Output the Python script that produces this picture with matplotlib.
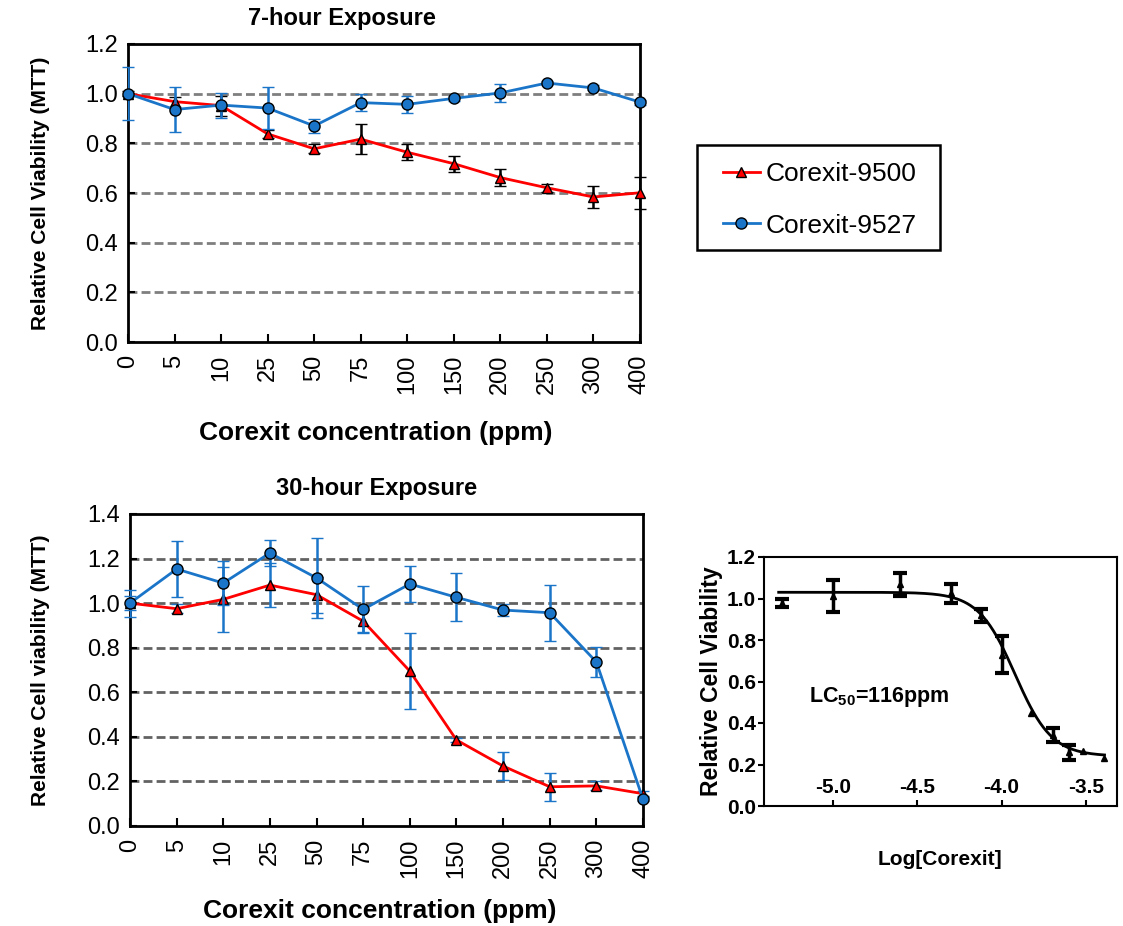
import matplotlib
matplotlib.use("Agg")
import matplotlib.pyplot as plt
from matplotlib.lines import Line2D
from matplotlib.patches import Rectangle
import numpy as np

plt.rcParams['font.family'] = ['Liberation Sans', 'DejaVu Sans']
plt.rcParams['mathtext.default'] = 'regular'

# ---------------- data ----------------
conc_labels = ["0", "5", "10", "25", "50", "75", "100", "150", "200", "250", "300", "400"]

# 7-hour exposure
v9500_7h = [1.00, 0.968, 0.952, 0.838, 0.778, 0.817, 0.764, 0.718, 0.662, 0.621, 0.584, 0.601]
e9500_7h = [0.01, 0.02, 0.04, 0.015, 0.018, 0.06, 0.033, 0.033, 0.033, 0.017, 0.044, 0.065]
v9527_7h = [1.00, 0.936, 0.954, 0.942, 0.870, 0.964, 0.957, 0.981, 1.003, 1.043, 1.023, 0.966]
e9527_7h = [0.107, 0.09, 0.05, 0.086, 0.028, 0.034, 0.035, 0.01, 0.035, 0.01, 0.01, 0.01]

# 30-hour exposure
v9500_30h = [1.00, 0.975, 1.017, 1.081, 1.038, 0.919, 0.695, 0.386, 0.269, 0.176, 0.180, 0.145]
e9500_30h = [0.03, 0.02, 0.145, 0.10, 0.08, 0.05, 0.17, 0.01, 0.064, 0.063, 0.02, 0.01]
v9527_30h = [1.00, 1.153, 1.090, 1.225, 1.113, 0.972, 1.086, 1.026, 0.969, 0.957, 0.736, 0.120]
e9527_30h = [0.06, 0.125, 0.10, 0.06, 0.18, 0.105, 0.08, 0.108, 0.025, 0.126, 0.068, 0.01]

# Dose-response (Log[Corexit])
log_conc = [-5.30, -5.00, -4.60, -4.30, -4.12, -4.00, -3.826, -3.696, -3.599, -3.518, -3.391]
resp = [0.977, 1.010, 1.069, 1.025, 0.919, 0.730, 0.448, 0.343, 0.258, 0.267, 0.231]
resp_err = [0.02, 0.077, 0.055, 0.045, 0.03, 0.09, 0.0, 0.035, 0.034, 0.0, 0.0]
# fitted 4-parameter logistic parameters
fit_top, fit_bottom, fit_logec50, fit_hill = 1.03, 0.24, -3.92, 4.0

RED = "#ff0000"
BLUE = "#1a75c9"
GRID_TOP = "#7f7f7f"
GRID_BOT = "#626262"

W, H = 1123, 926
fig = plt.figure(figsize=(W / 100, H / 100), dpi=100)


def px_axes(l, t, r, b):
    return fig.add_axes([l / W, 1 - b / H, (r - l) / W, (b - t) / H])


def style_line_axes(ax, box, vals_a, errs_a, vals_b, errs_b, ecol_a, ymax, ylabel,
                    xlab_cx, xlab_top, gridcol):
    l, t, r, b = box
    x = np.arange(len(conc_labels))
    for yv in np.arange(0.2, ymax - 0.1, 0.2):
        ax.axhline(yv, color=gridcol, lw=2.0, ls=(0, (3.2, 1.5)), zorder=1)
    ax.errorbar(x, vals_a, yerr=errs_a, color=RED, lw=2.0, marker='^', ms=7.5,
                mfc=RED, mec='black', mew=1.0, ecolor=ecol_a, elinewidth=1.8,
                capsize=4, capthick=1.8, zorder=3)
    ax.errorbar(x, vals_b, yerr=errs_b, color=BLUE, lw=2.0, marker='o', ms=8,
                mfc=BLUE, mec='black', mew=1.0, ecolor=BLUE, elinewidth=1.8,
                capsize=4, capthick=1.8, zorder=4)
    ax.set_xlim(0, len(conc_labels) - 1)
    ax.set_ylim(0, ymax)
    yt = np.arange(0, ymax + 0.01, 0.2)
    ax.set_yticks(np.round(yt, 1))
    ax.set_yticklabels([f"{v:.1f}" for v in yt], fontsize=17)
    ax.set_xticks(x)
    ax.set_xticklabels(conc_labels, rotation=90, fontsize=17)
    ax.tick_params(axis='x', direction='in', length=6, width=1.5, pad=9)
    ax.tick_params(axis='y', direction='in', length=5, width=1.5, pad=7)
    for s in ax.spines.values():
        s.set_linewidth(2.0)
    ax.set_ylabel(ylabel, fontsize=15, fontweight='bold')
    ax.yaxis.set_label_coords((50 - l) / (r - l), 0.5)
    ax.set_xlabel("Corexit concentration (ppm)", fontsize=19, fontweight='bold')
    ax.xaxis.set_label_coords((xlab_cx - l) / (r - l), (b - xlab_top) / (b - t))
    for line in ax.lines:
        line.set_clip_on(False)


box1 = (128, 44, 640, 342)
ax1 = px_axes(*box1)
style_line_axes(ax1, box1, v9500_7h, e9500_7h, v9527_7h, e9527_7h, 'black', 1.2,
                "Relative Cell Viability (MTT)", 376, 421, GRID_TOP)
fig.text(342 / W, 1 - 19 / H, "7-hour Exposure", fontsize=17, fontweight='bold',
         ha='center', va='center')

box2 = (130, 514, 643, 826)
ax2 = px_axes(*box2)
style_line_axes(ax2, box2, v9500_30h, e9500_30h, v9527_30h, e9527_30h, BLUE, 1.4,
                "Relative Cell viability (MTT)", 380, 899, GRID_BOT)
fig.text(377 / W, 1 - 488 / H, "30-hour Exposure", fontsize=17, fontweight='bold',
         ha='center', va='center')

# legend
h_a = Line2D([], [], color=RED, lw=2.0, marker='^', ms=7.5, mfc=RED, mec='black', mew=1.0)
h_b = Line2D([], [], color=BLUE, lw=2.0, marker='o', ms=8, mfc=BLUE, mec='black', mew=1.0)
leg = fig.legend([h_a, h_b], ["Corexit-9500", "Corexit-9527"], loc='upper left',
                 bbox_to_anchor=(723 / W, 1 - 162 / H), borderaxespad=0,
                 fontsize=19, frameon=False, handlelength=1.4, handletextpad=0.2,
                 labelspacing=1.05, borderpad=0)
fig.patches.append(Rectangle((697 / W, 1 - 250 / H), 243 / W, 105 / H,
                             transform=fig.transFigure, fill=False,
                             edgecolor='black', lw=1.8))

# ---------------- dose-response ----------------
box3 = (764, 557, 1117, 806)
ax3 = px_axes(*box3)
xs = np.linspace(-5.32, -3.39, 300)
ys = fit_bottom + (fit_top - fit_bottom) / (1 + 10 ** ((xs - fit_logec50) * fit_hill))
ax3.plot(xs, ys, color='black', lw=2.0, zorder=2)
lc = np.array(log_conc)
rv = np.array(resp)
re = np.array(resp_err)
m = re > 0
ax3.errorbar(lc[m], rv[m], yerr=re[m], fmt='none', ecolor='black',
             elinewidth=2.5, capsize=5, capthick=3, zorder=3)
ax3.plot(lc, rv, '^', color='black', ms=5, zorder=4)
ax3.set_xlim(-5.407, -3.316)
ax3.set_ylim(0, 1.2)
yt3 = np.arange(0, 1.21, 0.2)
ax3.set_yticks(np.round(yt3, 1))
ax3.set_yticklabels([f"{v:.1f}" for v in yt3], fontsize=15, fontweight='bold')
ax3.set_xticks([-5.0, -4.5, -4.0, -3.5])
ax3.set_xticklabels(["-5.0", "-4.5", "-4.0", "-3.5"], fontsize=15, fontweight='bold')
ax3.tick_params(axis='x', direction='in', length=4, width=1.5, pad=-20)
ax3.tick_params(axis='y', direction='out', length=4, width=1.5, pad=2)
for s in ax3.spines.values():
    s.set_linewidth(1.5)
ax3.set_ylabel("Relative Cell Viability", fontsize=16.5, fontweight='bold')
ax3.yaxis.set_label_coords((723 - 764) / 353, 0.5)
ax3.set_xlabel("Log[Corexit]", fontsize=15, fontweight='bold')
ax3.xaxis.set_label_coords((940 - 764) / 353, (806 - 850) / 249)
fig.text(879 / W, 1 - 697 / H, r"LC$_{50}$=116ppm", fontsize=15.5, fontweight='bold',
         ha='center', va='center')

fig.savefig("out.png", dpi=100)
